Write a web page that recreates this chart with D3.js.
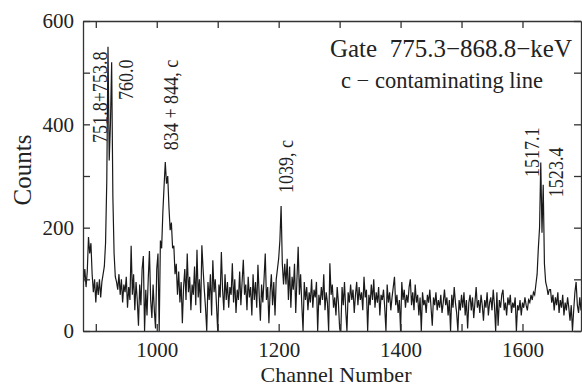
<!DOCTYPE html>
<html>
<head>
<meta charset="utf-8">
<script src="https://cdn.jsdelivr.net/npm/d3@7"></script>
<style>
  body { margin: 0; background: #fff; }
  svg text { font-family: "Liberation Serif", "DejaVu Serif", "Times New Roman", serif !important; fill: #222; }
  .axis path, .axis line { stroke: #333; stroke-width: 1.3; }
  .axis text { font-size: 21px; }
</style>
</head>
<body>
<div class="chart"></div>
<script>
// Spectrum data, one value every 2 channels.
const channelStep = 2;

// Channels 880 - 1030.
const countsA = [
  95, 120, 85, 115, 182, 150, 170, 110, 75, 100, 55, 95, 70, 100, 65, 95,
  110, 125, 170, 290, 550, 330, 400, 520, 260, 150, 105,
  95, 80, 110, 70, 100, 55, 90, 75, 105, 45, 85, 60, 165, 70, 110, 40, 95, 60,
  10, 90, 50, 120, 145, 0, 80, 30, 100, 155, 60, 25, 90, 40, 5, 120, 150,
  0, 175, 160, 230, 280, 327, 285, 300, 240, 195, 210, 160, 165, 110
];
// Channels 1032 - 1210.
const countsB = [
  130, 70, 115, 55, 95, 15, 85, 120, 60, 150, 75, 105, 40, 90, 70, 125, 50, 157, 65, 100,
  35, 166, 120, 80, 45, 0, 95, 60, 110, 30, 137, 75, 100, 50, 0, 90, 65, 153, 80, 40,
  110, 60, 95, 45, 85, 70, 131, 55, 100, 35, 80, 60, 115, 50, 95, 138, 70, 90, 40, 105,
  65, 85, 30, 110, 60, 95, 45, 128, 70, 20, 90, 55, 100, 150, 60, 85, 15, 75, 110, 50,
  95, 30, 100,
  120, 140, 175, 242, 130, 90, 130
];
// Channels 1212 - 1400.
const countsC = [
  90, 140, 60, 125, 45, 105, 80, 130, 35, 100, 163, 70, 110, 50, 0, 95, 60, 85, 40, 75,
  55, 100, 45, 80, 65, 95, 0, 70, 50, 85, 60, 110, 40, 75, 55, 0, 131, 70, 90, 45,
  65, 30, 85, 55, 5,
  0, 85, 50, 95, 40, 0, 75, 55, 90, 60, 80, 35, 70, 95, 50, 85, 60, 75, 40, 105,
  65, 80, 0, 70, 50, 90, 60, 100, 45, 75, 55, 85, 30, 70, 60, 80, 45, 0, 90, 55,
  75, 40, 65, 85, 105, 50, 70, 35, 60, 0
];
// Channels 1402 - 1614.
const countsD = [
  95, 60, 80, 45, 70, 55, 85, 100, 50, 75, 40, 90, 55, 70, 30, 65, 0, 75, 50, 60,
  35, 70, 55, 80, 45, 10, 65, 50, 75, 40, 60, 45, 70, 35, 55, 80, 50, 65, 30, 60,
  0, 70, 45, 85, 55, 35, 0, 60, 40, 70,
  45, 75, 30, 60, 5, 55, 70, 40, 65, 25, 55, 85, 45, 60, 35, 70, 50, 20, 60, 45,
  75, 30, 55, 65, 40, 80, 50, 0, 75, 10, 60, 45, 70, 80, 40, 55, 30, 65, 50, 70,
  35, 55, 45, 65, 0, 50, 40, 60, 30, 55, 45, 65, 50, 40, 60, 55, 70
];
// Channels 1616 - 1700.
const countsE = [
  60, 75, 70, 90, 110, 160, 200, 326, 190, 283, 130, 95, 85, 70, 80,
  80, 55, 70, 40, 65, 50, 75, 35, 60, 45, 70, 30, 55, 40, 65, 45, 20, 50, 0, 40,
  75, 95, 50, 35, 65, 40, 55, 45
];

const segments = [
  {start: 880, counts: countsA},
  {start: 1032, counts: countsB},
  {start: 1212, counts: countsC},
  {start: 1402, counts: countsD},
  {start: 1616, counts: countsE}
];

// Peak labels: text and its anchor (channel, counts).
const peakLabels = ['751.8+753.8', '760.0', '834 + 844, c', '1039, c', '1517.1', '1523.4'];
const labelChannels = [907, 949, 1022, 1211, 1615, 1655];
const labelCounts = [364, 447, 350, 267, 298, 259];

// Ticks.
const xTicks = [900, 1000, 1100, 1200, 1300, 1400, 1500, 1600];
const xTickLabels = [1000, 1200, 1400, 1600];
const yTicks = [0, 100, 200, 300, 400, 500, 600];
const yTickLabels = [0, 200, 400, 600];

// Flatten segments into points.
function prepareSpectrum(segs) {
  const points = [];
  segs.forEach(s => {
    s.counts.forEach((c, i) => points.push({channel: s.start + i * channelStep, counts: c}));
  });
  return points;
}

function ready() {
  const spectrum = prepareSpectrum(segments);

  const width = 582;
  const height = 387;
  const plot = {left: 83, right: 581, top: 21, bottom: 331};

  const xScale = d3.scaleLinear().domain([879, 1696]).range([plot.left, plot.right]);
  const yScale = d3.scaleLinear().domain([0, 600]).range([plot.bottom, plot.top]);

  const svg = d3.select('.chart')
    .append('svg')
    .attr('width', width)
    .attr('height', height);

  svg.append('clipPath')
    .attr('id', 'plot-clip')
    .append('rect')
    .attr('x', plot.left)
    .attr('y', plot.top)
    .attr('width', plot.right - plot.left)
    .attr('height', plot.bottom - plot.top);

  // Spectrum line.
  const line = d3.line()
    .x(d => xScale(d.channel))
    .y(d => yScale(d.counts));

  svg.append('path')
    .datum(spectrum)
    .attr('clip-path', 'url(#plot-clip)')
    .attr('d', line)
    .style('fill', 'none')
    .style('stroke', '#1a1a1a')
    .style('stroke-width', 1.2);

  // Axes, ticks inward on all sides.
  const xAxis = d3.axisBottom(xScale)
    .tickValues(xTicks)
    .tickSizeInner(-7)
    .tickSizeOuter(0)
    .tickPadding(11)
    .tickFormat(d => xTickLabels.includes(d) ? d : '');

  svg.append('g')
    .attr('class', 'x axis')
    .attr('transform', `translate(0,${plot.bottom})`)
    .call(xAxis);

  svg.append('g')
    .attr('class', 'x axis')
    .attr('transform', `translate(0,${plot.top})`)
    .call(d3.axisTop(xScale).tickValues(xTicks).tickSizeInner(-7).tickSizeOuter(0).tickFormat(''));

  const yAxis = d3.axisLeft(yScale)
    .tickValues(yTicks)
    .tickSizeInner(-7)
    .tickSizeOuter(0)
    .tickPadding(9)
    .tickFormat(d => yTickLabels.includes(d) ? d : '');

  svg.append('g')
    .attr('class', 'y axis')
    .attr('transform', `translate(${plot.left},0)`)
    .call(yAxis);

  svg.append('g')
    .attr('class', 'y axis')
    .attr('transform', `translate(${plot.right},0)`)
    .call(d3.axisRight(yScale).tickValues(yTicks).tickSizeInner(-7).tickSizeOuter(0).tickFormat(''));

  // Axis titles.
  svg.append('text')
    .attr('x', (plot.left + plot.right) / 2 + 4)
    .attr('y', 382)
    .attr('text-anchor', 'middle')
    .style('font-size', '22px')
    .text('Channel Number');

  svg.append('text')
    .attr('transform', `translate(31,${(plot.top + plot.bottom) / 2 - 6}) rotate(-90)`)
    .attr('text-anchor', 'middle')
    .style('font-size', '25px')
    .text('Counts');

  // Gate note.
  svg.append('text')
    .attr('x', 572)
    .attr('y', 57)
    .attr('text-anchor', 'end')
    .style('font-size', '25px')
    .style('white-space', 'pre')
    .text('Gate  775.3\u2212868.8\u2212keV');

  svg.append('text')
    .attr('x', 543)
    .attr('y', 88)
    .attr('text-anchor', 'end')
    .style('font-size', '22.5px')
    .text('c \u2212 contaminating line');

  // Peak labels.
  svg.selectAll('.peak-label')
    .data(peakLabels)
    .enter()
    .append('text')
    .attr('class', 'peak-label')
    .attr('transform', (d, i) =>
      `translate(${xScale(labelChannels[i])},${yScale(labelCounts[i])}) rotate(-90) scale(0.86,1)`)
    .attr('dy', '0.35em')
    .style('font-size', '21px')
    .text(d => d);
}

ready();
</script>
</body>
</html>
